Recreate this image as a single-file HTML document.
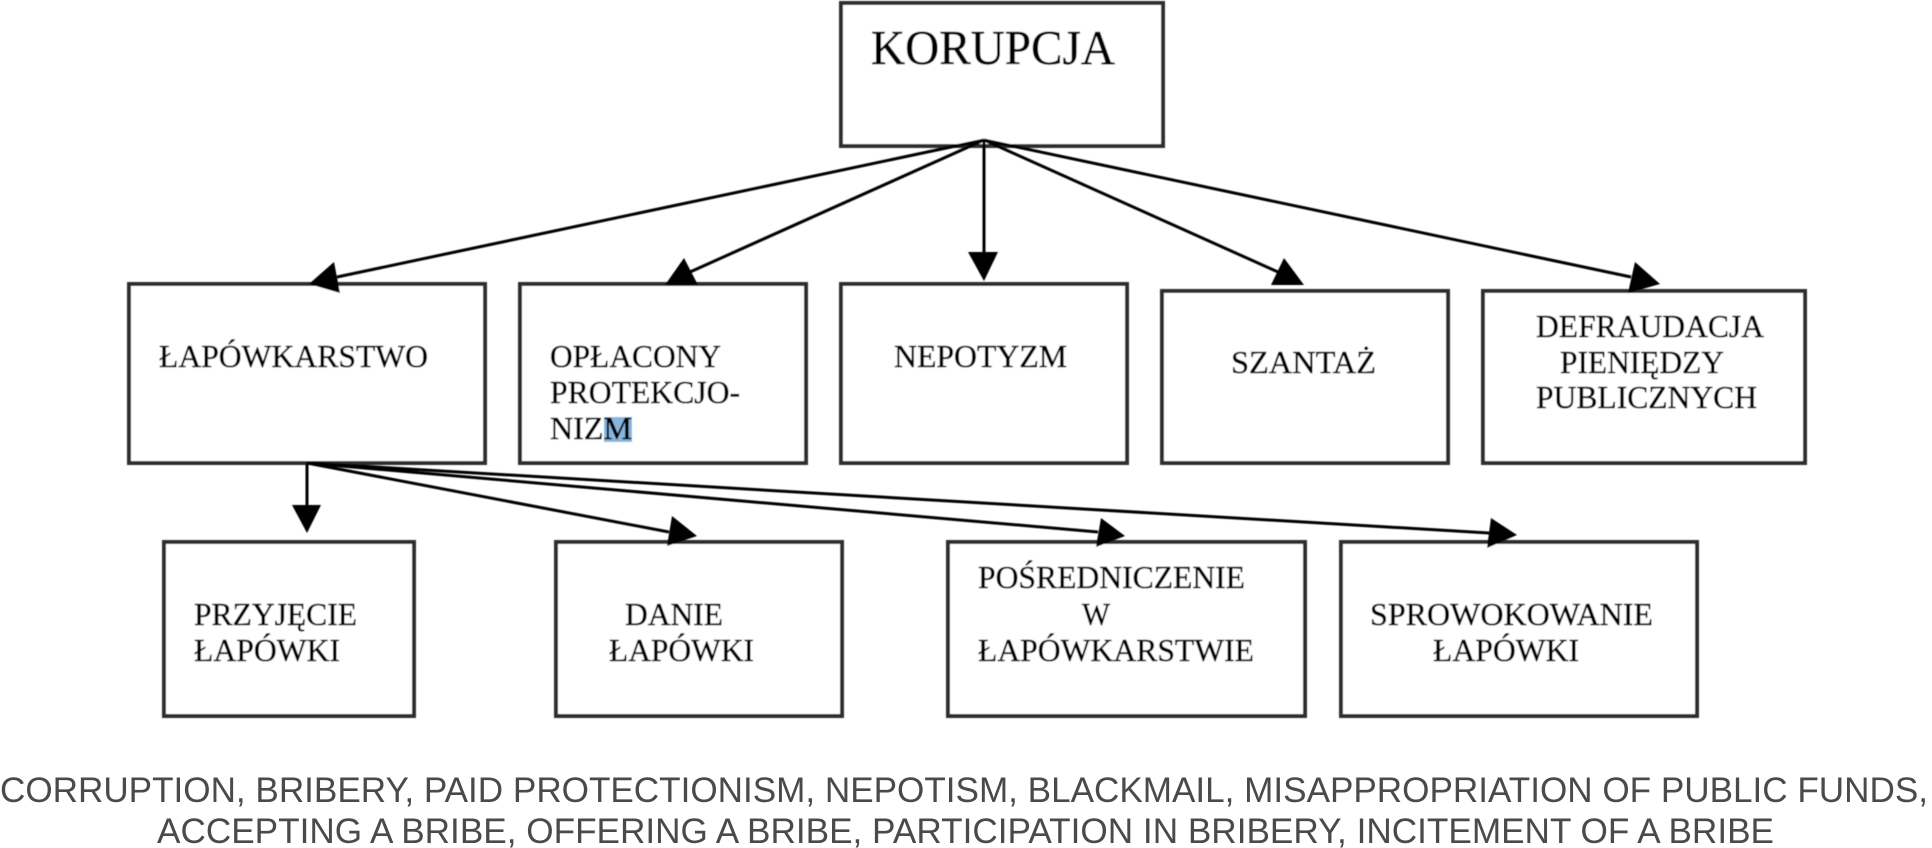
<!DOCTYPE html>
<html lang="pl">
<head>
<meta charset="utf-8">
<title>Korupcja</title>
<style>
html,body{margin:0;padding:0;background:#fff;width:1932px;height:848px;overflow:hidden}
svg{display:block}
.n{font-family:"Liberation Serif",serif;font-size:32px;fill:#000;stroke:#000;stroke-width:.45px}
.c{font-family:"Liberation Sans",sans-serif;font-size:35px;fill:#4a4a4a}
rect.b{fill:#fff;stroke:#2e2e2e;stroke-width:4}
line{stroke:#000;stroke-width:3}
polygon{fill:#000}
</style>
</head>
<body>
<svg xmlns="http://www.w3.org/2000/svg" width="1932" height="848" viewBox="0 0 1932 848">
<defs><filter id="s" x="-2%" y="-2%" width="104%" height="104%"><feGaussianBlur stdDeviation="0.55"/></filter></defs>
<rect width="1932" height="848" fill="#fff"/>
<g filter="url(#s)">
<rect class="b" x="841" y="3" width="322" height="143"/>
<rect class="b" x="129" y="284" width="356" height="179"/>
<rect class="b" x="520" y="284" width="286" height="179"/>
<rect class="b" x="841" y="284" width="286" height="179"/>
<rect class="b" x="1162" y="291" width="286" height="172"/>
<rect class="b" x="1483" y="291" width="322" height="172"/>
<rect class="b" x="164" y="542" width="250" height="174"/>
<rect class="b" x="556" y="542" width="286" height="174"/>
<rect class="b" x="948" y="542" width="357" height="174"/>
<rect class="b" x="1341" y="542" width="356" height="174"/>

<rect x="604" y="417" width="28" height="25" fill="#86b6df"/>

<text class="n" style="font-size:49px" x="871" y="64" textLength="244" lengthAdjust="spacingAndGlyphs">KORUPCJA</text>
<text class="n" x="159" y="367" textLength="269" lengthAdjust="spacingAndGlyphs">ŁAPÓWKARSTWO</text>
<text class="n" x="550" y="367" textLength="171" lengthAdjust="spacingAndGlyphs">OPŁACONY</text>
<text class="n" x="550" y="403" textLength="190" lengthAdjust="spacingAndGlyphs">PROTEKCJO-</text>
<text class="n" x="550" y="439" textLength="82" lengthAdjust="spacingAndGlyphs">NIZM</text>
<text class="n" x="894" y="367" textLength="173" lengthAdjust="spacingAndGlyphs">NEPOTYZM</text>
<text class="n" x="1231" y="373" textLength="145" lengthAdjust="spacingAndGlyphs">SZANTAŻ</text>
<text class="n" x="1536" y="337" textLength="228" lengthAdjust="spacingAndGlyphs">DEFRAUDACJA</text>
<text class="n" x="1560" y="373" textLength="164" lengthAdjust="spacingAndGlyphs">PIENIĘDZY</text>
<text class="n" x="1536" y="408" textLength="221" lengthAdjust="spacingAndGlyphs">PUBLICZNYCH</text>
<text class="n" x="194" y="625" textLength="163" lengthAdjust="spacingAndGlyphs">PRZYJĘCIE</text>
<text class="n" x="194" y="661" textLength="146" lengthAdjust="spacingAndGlyphs">ŁAPÓWKI</text>
<text class="n" x="625" y="625" textLength="98" lengthAdjust="spacingAndGlyphs">DANIE</text>
<text class="n" x="609" y="661" textLength="145" lengthAdjust="spacingAndGlyphs">ŁAPÓWKI</text>
<text class="n" x="978" y="588" textLength="267" lengthAdjust="spacingAndGlyphs">POŚREDNICZENIE</text>
<text class="n" x="1082" y="625" textLength="28" lengthAdjust="spacingAndGlyphs">W</text>
<text class="n" x="978" y="661" textLength="276" lengthAdjust="spacingAndGlyphs">ŁAPÓWKARSTWIE</text>
<text class="n" x="1370" y="625" textLength="283" lengthAdjust="spacingAndGlyphs">SPROWOKOWANIE</text>
<text class="n" x="1433" y="661" textLength="146" lengthAdjust="spacingAndGlyphs">ŁAPÓWKI</text>

<line x1="984" y1="140" x2="337" y2="277"/>
<line x1="984" y1="140" x2="690" y2="272"/>
<line x1="984" y1="140" x2="984" y2="254"/>
<line x1="984" y1="140" x2="1278" y2="272"/>
<line x1="984" y1="140" x2="1631" y2="277"/>
<polygon points="309,284 334,262 340,293"/>
<polygon points="665,285 684,258 698,285"/>
<polygon points="968,252 998,252 984,281"/>
<polygon points="1304,285 1284,258 1271,285"/>
<polygon points="1660,284 1635,262 1628,293"/>

<line x1="307" y1="463" x2="307" y2="507"/>
<line x1="307" y1="463" x2="669" y2="532"/>
<line x1="307" y1="463" x2="1098" y2="532"/>
<line x1="307" y1="463" x2="1489" y2="533"/>
<polygon points="292,505 321,505 307,533"/>
<polygon points="697,536 672,516 667,546"/>
<polygon points="1125,536 1101,518 1096,547"/>
<polygon points="1517,535 1491,518 1487,548"/>
</g>

<text class="c" x="0" y="802" textLength="1928" lengthAdjust="spacingAndGlyphs">CORRUPTION, BRIBERY, PAID PROTECTIONISM, NEPOTISM, BLACKMAIL, MISAPPROPRIATION OF PUBLIC FUNDS,</text>
<text class="c" x="157" y="843" textLength="1617" lengthAdjust="spacingAndGlyphs">ACCEPTING A BRIBE, OFFERING A BRIBE, PARTICIPATION IN BRIBERY, INCITEMENT OF A BRIBE</text>
</svg>
</body>
</html>
